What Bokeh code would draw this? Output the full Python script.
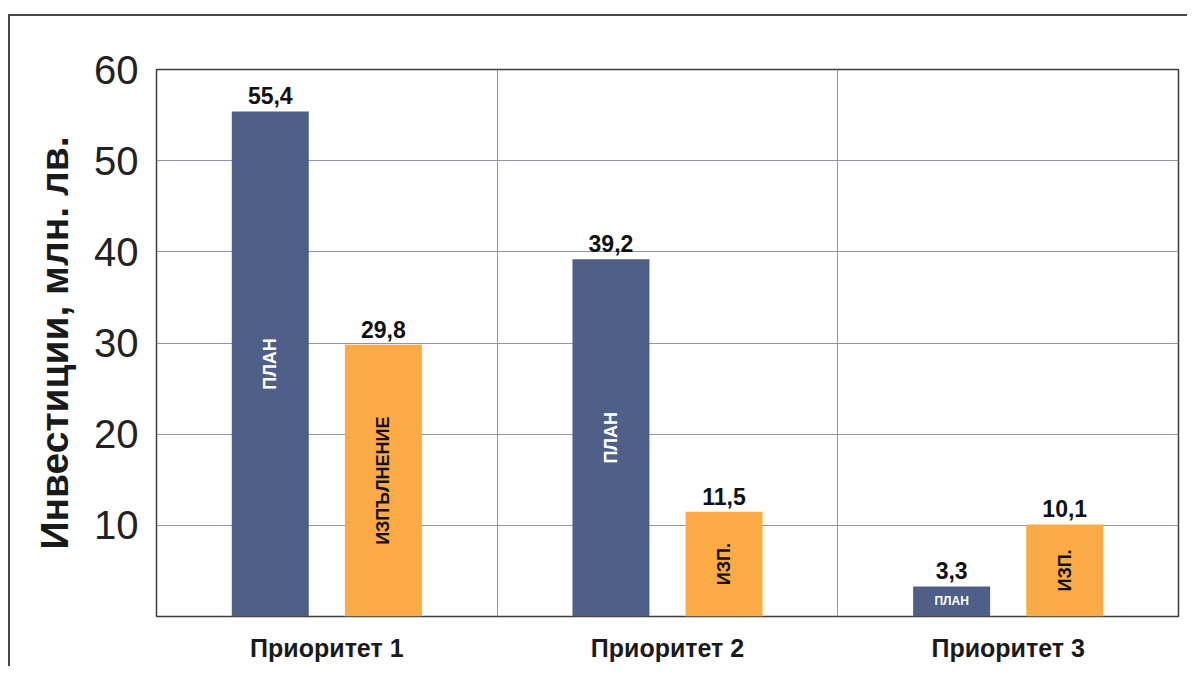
import math
from bokeh.plotting import figure
from bokeh.models import Range1d, FixedTicker, ColumnDataSource
from bokeh.core.properties import value
from bokeh.embed import file_html
from bokeh.resources import INLINE

# ---- data ----
categories = ["Приоритет 1", "Приоритет 2", "Приоритет 3"]
plan = [55.4, 39.2, 3.3]
actual = [29.8, 11.5, 10.1]
plan_tags = ["ПЛАН", "ПЛАН", "ПЛАН"]
actual_tags = ["ИЗПЪЛНЕНИЕ", "ИЗП.", "ИЗП."]
y_ticks = [10, 20, 30, 40, 50, 60]
y_title = "Инвестиции, млн. лв."

BLUE = "#4f6088"
ORANGE = "#fbab45"
GRID = "#8e97aa"
FONT = "Liberation Sans"

OFF = 0.166
BW = 0.226

def fmt(v):
    return f"{v:.1f}".replace(".", ",")

centers = [i + 0.5 for i in range(len(categories))]
src_plan = ColumnDataSource(dict(
    x=[c - OFF for c in centers], top=plan, mid=[v / 2 for v in plan],
    lab=[fmt(v) for v in plan], tag=plan_tags))
src_act = ColumnDataSource(dict(
    x=[c + OFF for c in centers], top=actual, mid=[v / 2 for v in actual],
    lab=[fmt(v) for v in actual], tag=actual_tags))

p = figure(width=1179, height=652, x_range=Range1d(0, 3), y_range=Range1d(0, 60),
           output_backend="svg", toolbar_location=None,
           min_border_left=146, min_border_right=11, min_border_top=53, min_border_bottom=52)
p.styles = {"border-left": "2px solid #4a4a4a", "border-top": "2px solid #4a4a4a",
            "margin-left": "8px", "margin-top": "14px"}

p.background_fill_color = "white"
p.border_fill_color = "white"
p.outline_line_color = "#3d3d3d"
p.outline_line_width = 1.5

# grid
p.ygrid.ticker = FixedTicker(ticks=y_ticks[:-1])
p.xgrid.ticker = FixedTicker(ticks=[1, 2])
p.ygrid.grid_line_color = GRID
p.xgrid.grid_line_color = GRID
p.ygrid.grid_line_width = 1
p.xgrid.grid_line_width = 1

# bars
p.vbar(x="x", top="top", width=BW, bottom=0, source=src_plan, fill_color=BLUE, line_color=None)
p.vbar(x="x", top="top", width=BW, bottom=0, source=src_act, fill_color=ORANGE, line_color=None)

# value labels
for s in (src_plan, src_act):
    p.text(x="x", y="top", text="lab", source=s, text_font=value(FONT), text_font_style="bold",
           text_font_size="23px", text_color="#111111", text_align="center",
           text_baseline="bottom", y_offset=-7)

# inside labels (rotated for tall bars)
big_plan = ColumnDataSource(dict(x=src_plan.data["x"][:2], y=src_plan.data["mid"][:2], t=plan_tags[:2]))
p.text(x="x", y="y", text="t", source=big_plan, angle=math.pi / 2, text_font=value(FONT),
       text_font_style="bold", text_font_size="18px", text_color="white",
       text_align="center", text_baseline="middle")
small_plan = ColumnDataSource(dict(x=src_plan.data["x"][2:], y=src_plan.data["mid"][2:], t=plan_tags[2:]))
p.text(x="x", y="y", text="t", source=small_plan, text_font=value(FONT),
       text_font_style="bold", text_font_size="12px", text_color="white",
       text_align="center", text_baseline="middle")
p.text(x="x", y="mid", text="tag", source=src_act, angle=math.pi / 2, text_font=value(FONT),
       text_font_style="bold", text_font_size="18px", text_color="#111111",
       text_align="center", text_baseline="middle")

# axes
p.xaxis.ticker = FixedTicker(ticks=centers)
p.xaxis.major_label_overrides = {c: n for c, n in zip(centers, categories)}
p.xaxis.major_label_text_font = FONT
p.xaxis.major_label_text_font_style = "bold"
p.xaxis.major_label_text_font_size = "25px"
p.xaxis.major_label_text_color = "#1a1a1a"
p.xaxis.major_label_standoff = 11
p.xaxis.axis_line_color = None
p.xaxis.major_tick_line_color = None
p.xaxis.minor_tick_line_color = None

p.yaxis.ticker = FixedTicker(ticks=y_ticks)
p.yaxis.major_label_text_font = FONT
p.yaxis.major_label_text_font_size = "40px"
p.yaxis.major_label_text_color = "#222222"
p.yaxis.major_label_standoff = 12
p.yaxis.axis_line_color = None
p.yaxis.major_tick_line_color = None
p.yaxis.minor_tick_line_color = None
p.yaxis.axis_label = y_title
p.yaxis.axis_label_text_font = FONT
p.yaxis.axis_label_text_font_style = "bold"
p.yaxis.axis_label_text_font_size = "39px"
p.yaxis.axis_label_text_color = "#1a1a1a"
p.yaxis.axis_label_standoff = 15

open("out.html", "w").write(file_html(p, INLINE))
